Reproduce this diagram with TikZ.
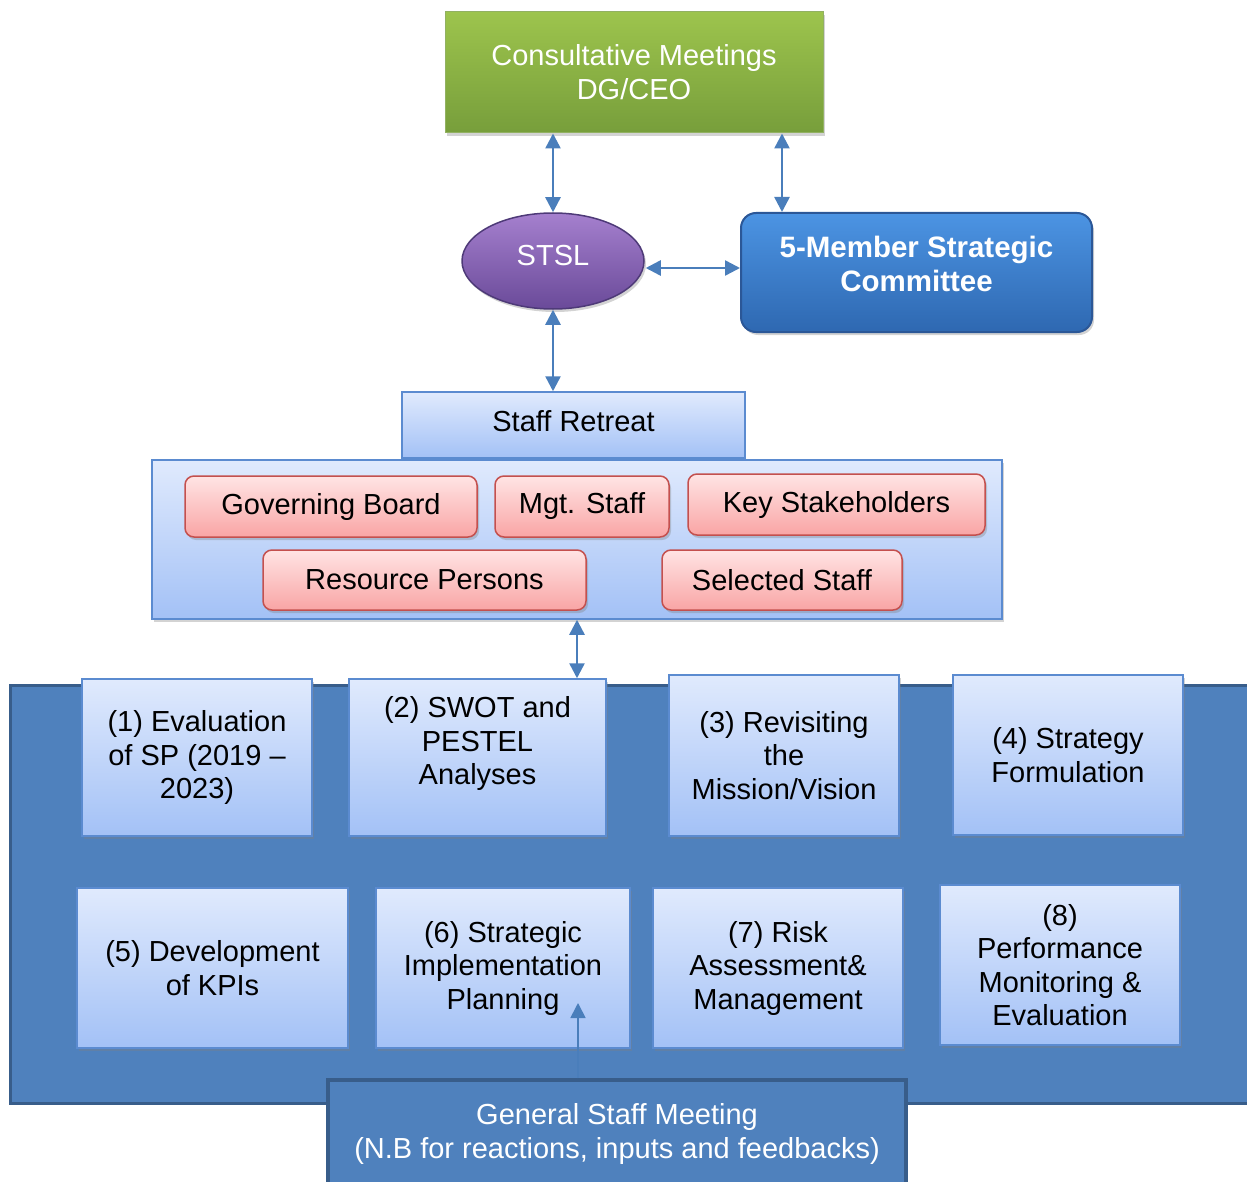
\documentclass[tikz,border=0pt]{standalone}
\usepackage{fontspec}
\setmainfont{Liberation Sans}
\usetikzlibrary{arrows.meta,shapes.geometric,shadows,calc}
\definecolor{greentop}{HTML}{9DC44D}
\definecolor{greenbot}{HTML}{779E3B}
\definecolor{purtop}{HTML}{A580CE}
\definecolor{purbot}{HTML}{6A4A99}
\definecolor{purborder}{HTML}{4E3A78}
\definecolor{comtop}{HTML}{4C94E3}
\definecolor{combot}{HTML}{2E68B1}
\definecolor{comborder}{HTML}{2B5797}
\definecolor{lbtop}{HTML}{E0EAFD}
\definecolor{lbbot}{HTML}{A3C1F6}
\definecolor{lbborder}{HTML}{5B8BD0}
\definecolor{redtop}{HTML}{FFE4E4}
\definecolor{redbot}{HTML}{F9A5A5}
\definecolor{redborder}{HTML}{C4504E}
\definecolor{bgblue}{HTML}{4F81BD}
\definecolor{bgborder}{HTML}{385D8A}
\definecolor{arrowblue}{HTML}{4A7EBB}
\begin{document}
\begin{tikzpicture}[x=1pt,y=-1pt,
  font=\fontsize{29}{33.5}\selectfont,
  shad/.style={drop shadow={opacity=0.35,shadow xshift=2pt,shadow yshift=-3pt}},
  arr/.style={draw=arrowblue,line width=2.5pt,{Triangle[width=15pt,length=15pt]}-{Triangle[width=15pt,length=15pt]}},
  uparr/.style={draw=arrowblue,line width=1.8pt,-{Triangle[width=15pt,length=15pt]}},
  greenbox/.style={shad,top color=greentop,bottom color=greenbot,draw=greenbot!80!white,line width=1pt,text=white,align=center,inner sep=0pt},
  purell/.style={shad,ellipse,top color=purtop,bottom color=purbot,draw=purborder,line width=1.5pt,text=white,inner sep=0pt},
  combox/.style={shad,rounded corners=15pt,top color=comtop,bottom color=combot,draw=comborder,line width=2pt,text=white,font=\fontsize{29.5}{34}\selectfont\bfseries,align=center,inner sep=0pt},
  lightbox/.style={top color=lbtop,bottom color=lbbot,draw=lbborder,line width=1.5pt,align=center,inner sep=0pt},
  stepbox/.style={lightbox,shad},
  redbox/.style={shad,rounded corners=9pt,top color=redtop,bottom color=redbot,draw=redborder,line width=1.5pt,inner sep=0pt},
  bgbox/.style={fill=bgblue,draw=bgborder,line width=3pt,inner sep=0pt},
  gsmbox/.style={fill=bgblue,draw=bgborder,line width=3.5pt,text=white,align=center,inner sep=0pt}
]
\useasboundingbox (0,0) rectangle (1247,1182);

% large background stage
\node[bgbox,minimum width=1260pt,minimum height=418pt] (stage) at (640,894) {};

% top part
\node[greenbox,minimum width=378pt,minimum height=121pt] (green) at (634,72.5) {Consultative Meetings\\DG/CEO\\[-32pt]\mbox{}};
\node[purell,minimum width=182pt,minimum height=96pt] (stsl) at (553,261) {};
\node[text=white,inner sep=0pt] (stsltext) at ([yshift=5pt]stsl.center) {STSL};
\node[combox,minimum width=351pt,minimum height=119pt] (com) at (916.5,272.5) {5-Member Strategic\\Committee\\[-16pt]\mbox{}};

\node[lightbox,minimum width=343pt,minimum height=66pt] (retreat) at (573.5,425) {Staff Retreat\\[-25pt]\mbox{}};
\node[lightbox,shad,minimum width=850pt,minimum height=159pt] (group) at (577,539.5) {};

\node[redbox,minimum width=292pt,minimum height=61pt] (gb) at (331,506.5) {Governing Board};
\node[redbox,minimum width=174pt,minimum height=61pt] (mgt) at (582,506.5) {Mgt. Staff};
\node[redbox,minimum width=297pt,minimum height=61pt] (ks) at (836.5,504.5) {Key Stakeholders};
\node[redbox,minimum width=323pt,minimum height=60pt] (rp) at (424.5,580) {Resource Persons};
\node[redbox,minimum width=240pt,minimum height=60pt] (ss) at (782,580) {Selected Staff};

% steps
\node[stepbox,minimum width=230pt,minimum height=157pt] (s1) at (197,757.5) {(1) Evaluation\\of SP (2019 --\\2023)};
\node[stepbox,minimum width=257pt,minimum height=157pt] (s2) at (477.5,757.5) {(2) SWOT and\\PESTEL\\Analyses\\\mbox{}};
\node[stepbox,minimum width=230pt,minimum height=161pt] (s3) at (784,755.5) {(3) Revisiting\\the\\Mission/Vision};
\node[stepbox,minimum width=230pt,minimum height=160pt] (s4) at (1068,755) {(4) Strategy\\Formulation};
\node[stepbox,minimum width=271pt,minimum height=160pt] (s5) at (212.5,968) {(5) Development\\of KPIs};
\node[stepbox,minimum width=254pt,minimum height=160pt] (s6) at (503,968) {(6) Strategic\\Implementation\\Planning};
\node[stepbox,minimum width=250pt,minimum height=160pt] (s7) at (778,968) {(7) Risk\\Assessment\&\\Management};
\node[stepbox,minimum width=240pt,minimum height=160pt] (s8) at (1060,965) {(8)\\Performance\\Monitoring \&\\Evaluation};

\node[gsmbox,minimum width=578pt,minimum height=108pt] (gsm) at (617,1134) {General Staff Meeting\\(N.B for reactions, inputs and feedbacks)};

% connectors
\draw[arr] (stsl.north) -- (stsl.north |- green.south);
\coordinate (cr) at ([xshift=42pt]com.north west);
\draw[arr] (cr) -- (cr |- green.south);
\coordinate (hl) at ([xshift=1pt]stsl.east |- 0,268);
\draw[arr] (hl) -- (hl -| com.west);
\draw[arr] (stsl.south) -- (stsl.south |- retreat.north);
\draw[arr] (group.south) -- (group.south |- s2.north);
\coordinate (tip6) at (578,1003);
\draw[uparr] (gsm.north -| tip6) -- (tip6);
\end{tikzpicture}
\end{document}
